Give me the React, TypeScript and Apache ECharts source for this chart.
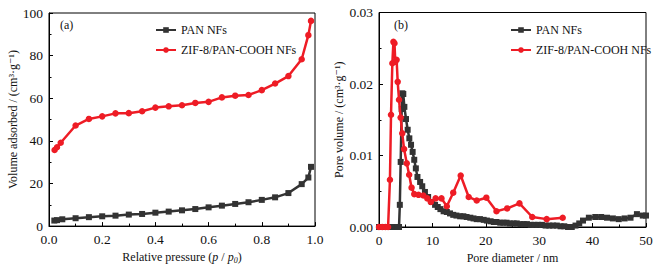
import React, { useEffect, useRef } from "react";
import * as echarts from "echarts";

const seriesNames = ["PAN NFs", "ZIF-8/PAN-COOH NFs"];
const colors = ["#333333", "#ee1c25"];

// (a) isotherms: [relative pressure, volume adsorbed]
const isoPAN: number[][] = [
  [0.02, 2.6], [0.03, 2.8], [0.05, 3.2], [0.1, 3.7], [0.15, 4.2], [0.2, 4.6], [0.25, 4.9],
  [0.3, 5.4], [0.35, 5.7], [0.4, 6.3], [0.45, 6.8], [0.5, 7.4], [0.55, 8.0], [0.6, 8.8],
  [0.65, 9.6], [0.7, 10.4], [0.75, 11.2], [0.8, 12.3], [0.85, 13.5], [0.9, 15.5],
  [0.95, 19.7], [0.975, 22.8], [0.985, 27.8],
];
const isoZIF: number[][] = [
  [0.021, 35.7], [0.03, 37.0], [0.044, 39.1], [0.1, 47.2], [0.15, 50.3], [0.2, 51.5],
  [0.25, 52.9], [0.3, 53.0], [0.35, 53.9], [0.4, 55.6], [0.45, 56.2], [0.5, 56.7],
  [0.55, 57.8], [0.6, 58.3], [0.65, 60.4], [0.7, 61.2], [0.75, 61.5], [0.8, 63.8],
  [0.85, 66.9], [0.9, 70.4], [0.95, 78.3], [0.975, 89.6], [0.985, 96.3],
];

// (b) pore size distribution: [pore diameter nm, pore volume]
const psdPAN: number[][] = [
  [0, 0], [0.6, 0], [1.2, 0], [1.8, 0], [2.4, 0], [3.0, 0], [3.5, 0], [3.75, 0],
  [3.9, 0.0031], [4.06, 0.0091], [4.25, 0.0165], [4.37, 0.0187], [4.55, 0.0186],
  [4.75, 0.0168], [5.06, 0.0151], [5.37, 0.0136], [5.68, 0.0124], [6.0, 0.0115],
  [6.3, 0.0105], [6.6, 0.0094], [6.9, 0.0082], [7.2, 0.007], [7.7, 0.0063], [8.1, 0.0057],
  [8.6, 0.0049], [9.2, 0.0042], [9.9, 0.0035], [10.5, 0.0031], [11.0, 0.0028],
  [11.5, 0.0025], [12.1, 0.0022], [12.7, 0.0021], [13.3, 0.0019], [13.9, 0.0017],
  [14.5, 0.0016], [15.2, 0.0015], [15.8, 0.0015], [16.4, 0.0014], [17.1, 0.0013],
  [17.7, 0.0012], [18.3, 0.0011], [18.9, 0.0011], [19.6, 0.001], [20.2, 0.0009],
  [20.9, 0.0008], [21.5, 0.0007], [22.0, 0.0007], [22.7, 0.0006], [23.3, 0.0006],
  [23.9, 0.0006], [24.5, 0.0005], [25.2, 0.0005], [25.8, 0.0005], [26.5, 0.0004],
  [27.1, 0.0004], [27.7, 0.0004], [28.4, 0.0003], [29.1, 0.0003], [29.8, 0.0003],
  [30.5, 0.0003], [31.2, 0.0002], [31.9, 0.0002], [32.6, 0.0002], [33.3, 0.0002],
  [34.0, 0.0001], [34.7, 0.0001], [35.4, 0.0], [36.1, 0.0], [36.8, 0.0002],
  [37.5, 0.0005], [38.2, 0.0009], [39.3, 0.0013], [40.5, 0.0014], [41.6, 0.0014],
  [42.7, 0.0013], [43.8, 0.0012], [44.9, 0.0011], [46.0, 0.0012], [47.1, 0.0013],
  [48.3, 0.0018], [49.4, 0.0016], [50.0, 0.0016],
];
const psdZIF: number[][] = [
  [0, 0], [0.6, 0], [1.2, 0], [1.7, 0], [2.05, 0.0066], [2.25, 0.0157], [2.5, 0.0229],
  [2.7, 0.0259], [2.9, 0.0257], [3.05, 0.0231], [3.3, 0.0234], [3.5, 0.0203],
  [3.75, 0.0178], [4.05, 0.0153], [4.35, 0.0131], [4.7, 0.0109], [5.2, 0.0089],
  [5.65, 0.0073], [6.1, 0.0055], [6.6, 0.0046], [7.4, 0.0045], [8.3, 0.0044],
  [9.05, 0.004], [9.7, 0.0035], [10.6, 0.004], [11.7, 0.004], [12.7, 0.0029],
  [13.9, 0.0048], [15.3, 0.0072], [16.8, 0.0042], [18.3, 0.0037], [20.1, 0.0041],
  [22.0, 0.0022], [24.0, 0.0026], [26.3, 0.0033], [28.7, 0.0014], [31.4, 0.0011],
  [34.4, 0.0013],
];

const xNameA = "Relative pressure ({i|p} / {i|p}{sub|0})";
const yNameA = "Volume adsorbed / (cm³·g⁻¹)";
const xNameB = "Pore diameter / nm";
const yNameB = "Pore volume / (cm³·g⁻¹)";

const FONT = "'Liberation Serif', 'DejaVu Serif', serif";

function axisBase(extra: any) {
  return {
    axisLine: { show: true, lineStyle: { color: "#000", width: 1 } },
    axisTick: { show: true, inside: true, length: 4, lineStyle: { color: "#000" } },
    minorTick: { show: true, splitNumber: 2, length: 2.5, lineStyle: { color: "#000" } },
    splitLine: { show: false },
    axisLabel: { color: "#111", fontFamily: FONT, fontSize: 13.5, margin: 6 },
    nameLocation: "middle",
    nameTextStyle: { color: "#111", fontFamily: FONT, fontSize: 12 },
    ...extra,
  };
}

export default function App() {
  const ref = useRef<HTMLDivElement>(null);
  useEffect(() => {
    const chart = echarts.init(ref.current!, undefined, { renderer: "svg" });
    const lineSeries = (name: string, idx: number, data: number[][], ax: number, symbol: string, size: number) => ({
      name,
      type: "line",
      xAxisIndex: ax,
      yAxisIndex: ax,
      data,
      symbol,
      symbolSize: size,
      showSymbol: true,
      lineStyle: { color: colors[idx], width: 2.5 },
      itemStyle: { color: colors[idx] },
      z: 2 + idx,
    });
    chart.setOption({
      animation: false,
      backgroundColor: "#fff",
      grid: [
        { left: 49, right: 356, top: 13, bottom: 42, show: true, borderColor: "#000", borderWidth: 1 },
        { left: 379, right: 25, top: 12.5, bottom: 42, show: true, borderColor: "#000", borderWidth: 1 },
      ],
      xAxis: [
        axisBase({
          gridIndex: 0, type: "value", min: 0, max: 1, interval: 0.2,
          name: xNameA, nameGap: 22,
          nameTextStyle: {
            color: "#111", fontFamily: FONT, fontSize: 12,
            rich: {
              i: { fontStyle: "italic", fontFamily: FONT, fontSize: 12, color: "#111" },
              sub: { fontStyle: "italic", fontFamily: FONT, fontSize: 8, color: "#111", verticalAlign: "bottom", padding: [6, 0, 0, 0] },
            },
          },
          axisLabel: { color: "#111", fontFamily: FONT, fontSize: 13.5, margin: 6, formatter: (v: number) => v.toFixed(1) },
        }),
        axisBase({
          gridIndex: 1, type: "value", min: 0, max: 50, interval: 10,
          name: xNameB, nameGap: 22,
        }),
      ],
      yAxis: [
        axisBase({
          gridIndex: 0, type: "value", min: 0, max: 100, interval: 20,
          name: yNameA, nameGap: 27,
        }),
        axisBase({
          gridIndex: 1, type: "value", min: 0, max: 0.03, interval: 0.01,
          name: yNameB, nameGap: 33,
          axisLabel: { color: "#111", fontFamily: FONT, fontSize: 13.5, margin: 6, formatter: (v: number) => v.toFixed(2) },
        }),
      ],
      legend: [
        {
          data: seriesNames, orient: "vertical", left: 150, top: 19, itemGap: 8,
          itemWidth: 20, itemHeight: 7,
          textStyle: { color: "#111", fontFamily: FONT, fontSize: 12 },
        },
        {
          data: seriesNames, orient: "vertical", left: 505, top: 19, itemGap: 8,
          itemWidth: 20, itemHeight: 7,
          textStyle: { color: "#111", fontFamily: FONT, fontSize: 12 },
        },
      ],
      graphic: [
        { type: "text", left: 60, top: 19, style: { text: "(a)", font: `12px ${FONT}`, fill: "#111" } },
        { type: "text", left: 394, top: 19, style: { text: "(b)", font: `12px ${FONT}`, fill: "#111" } },
      ],
      series: [
        lineSeries(seriesNames[0], 0, isoPAN, 0, "rect", 6),
        lineSeries(seriesNames[1], 1, isoZIF, 0, "circle", 6.5),
        lineSeries(seriesNames[0], 0, psdPAN, 1, "rect", 6),
        lineSeries(seriesNames[1], 1, psdZIF, 1, "circle", 6.5),
      ],
    });
    return () => chart.dispose();
  }, []);
  return <div ref={ref} style={{ position: "fixed", left: 0, top: 0, width: 671, height: 269 }} />;
}
